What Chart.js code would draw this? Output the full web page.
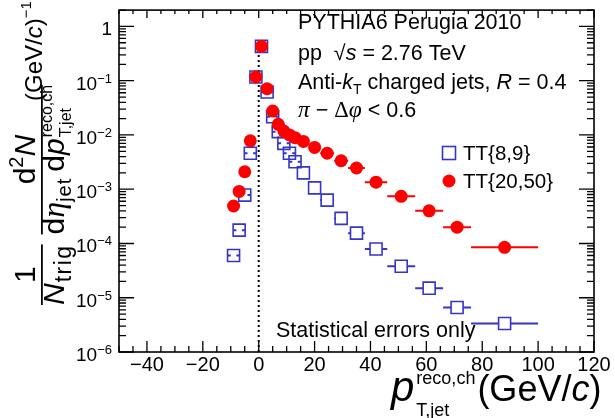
<!DOCTYPE html>
<html>
<head>
<meta charset="utf-8">
<script src="https://cdn.jsdelivr.net/npm/chart.js@4.4.1/dist/chart.umd.min.js"></script>
<style>
  html, body { margin: 0; padding: 0; background: #fff; }
  #wrap { width: 615px; height: 418px; position: relative; }
</style>
</head>
<body>
<div id="wrap"><canvas id="jets"></canvas></div>
<script>
// bin centres and half-widths in pT (GeV/c)
const binCenters = [-9, -7, -5, -3, -1, 1, 3, 5, 7, 9, 11, 13, 16, 20, 24.5, 29.5, 35, 42, 51, 61, 71, 88];
const binHalfWidths = [1, 1, 1, 1, 1, 1, 1, 1, 1, 1, 1, 1, 2, 2, 2.5, 2.5, 3, 4, 5, 5, 5, 12];

// per-trigger yields
const tt89 = [6.0e-5, 1.76e-4, 7.8e-4, 4.6e-3, 0.117, 0.43, 0.062, 0.0217, 0.0115, 0.0070, 0.0046, 0.0032,
              0.0020, 1.06e-3, 6.3e-4, 2.9e-4, 1.55e-4, 7.9e-5, 3.8e-5, 1.5e-5, 6.6e-6, 3.35e-6];
const tt2050 = [4.9e-4, 9.1e-4, 2.1e-3, 7.8e-3, 0.117, 0.43, 0.071, 0.0275, 0.0157, 0.0118, 0.0100, 0.0089,
                0.0076, 0.0059, 0.0046, 0.00335, 0.00246, 0.00135, 7.4e-4, 4.0e-4, 2.0e-4, 8.5e-5];

const xTickValues = [-40, -20, 0, 20, 40, 60, 80, 100, 120];
const yTickExponents = [0, -1, -2, -3, -4, -5, -6];

const BLUE = '#3535c8';
const RED = '#ff0000';
const SANS = '"Liberation Sans", Arial, sans-serif';
const SERIF = '"Liberation Serif", "Times New Roman", serif';
const f = (size, style) => `${style || ''} ${size}px ${SANS}`;
const fs = (size, style) => `${style || ''} ${size}px ${SERIF}`;

// draws a row of text pieces; a piece may carry a stacked sup/sub pair
function drawRuns(ctx, x, y, runs) {
  runs.forEach(r => {
    ctx.font = r.font;
    ctx.letterSpacing = (r.ls || 0) + 'px';
    if (r.stack) {
      ctx.fillText(r.stack[0], x, y + r.dy[0]);
      ctx.fillText(r.stack[1], x, y + r.dy[1]);
      x += Math.max(ctx.measureText(r.stack[0]).width, ctx.measureText(r.stack[1]).width) + (r.gap || 0);
    } else {
      ctx.fillText(r.text, x, y + (r.dy || 0));
      x += ctx.measureText(r.text).width + (r.gap || 0);
    }
    ctx.letterSpacing = '0px';
  });
  return x;
}
function runsWidth(ctx, runs) {
  let w = 0;
  runs.forEach(r => {
    ctx.font = r.font;
    ctx.letterSpacing = (r.ls || 0) + 'px';
    if (r.stack) w += Math.max(ctx.measureText(r.stack[0]).width, ctx.measureText(r.stack[1]).width);
    else w += ctx.measureText(r.text).width;
    w += r.gap || 0;
    ctx.letterSpacing = '0px';
  });
  return w;
}

const rootFrame = {
  id: 'rootFrame',
  beforeDatasetsDraw(chart) {
    const { ctx, scales: { x, y } } = chart;
    ctx.save();
    // dotted line at zero
    ctx.strokeStyle = '#000';
    ctx.lineWidth = 2;
    ctx.setLineDash([2, 3]);
    ctx.beginPath();
    ctx.moveTo(x.getPixelForValue(0), y.getPixelForValue(1e-6));
    ctx.lineTo(x.getPixelForValue(0), y.getPixelForValue(0.5));
    ctx.stroke();
    ctx.setLineDash([]);

    // horizontal bin-width bars, kept outside the open squares
    chart.data.datasets.forEach(ds => {
      const open = ds.pointStyle === 'rect';
      const gapHalf = open ? ds.pointRadius * Math.SQRT1_2 : 0;
      ctx.strokeStyle = open ? ds.borderColor : ds.backgroundColor;
      ctx.lineWidth = 2;
      ds.data.forEach((p, i) => {
        const hw = binHalfWidths[i];
        const py = y.getPixelForValue(p.y);
        const px = x.getPixelForValue(p.x);
        const x0 = x.getPixelForValue(p.x - hw), x1 = x.getPixelForValue(p.x + hw);
        ctx.beginPath();
        ctx.moveTo(x0, py); ctx.lineTo(px - gapHalf, py);
        ctx.moveTo(px + gapHalf, py); ctx.lineTo(x1, py);
        ctx.stroke();
      });
    });
    ctx.restore();
  },
  afterDraw(chart) {
    const { ctx, chartArea: a, scales: { x, y } } = chart;
    ctx.save();
    ctx.fillStyle = '#000';
    ctx.strokeStyle = '#000';

    // frame
    ctx.lineWidth = 1.6;
    ctx.strokeRect(a.left, a.top, a.right - a.left, a.bottom - a.top);

    // x ticks, bottom and top
    ctx.lineWidth = 1.3;
    ctx.beginPath();
    for (let v = -50; v <= 120; v += 5) {
      const px = x.getPixelForValue(v);
      const major = v % 20 === 0;
      ctx.moveTo(px, a.bottom); ctx.lineTo(px, a.bottom - (major ? 11 : 6));
      ctx.moveTo(px, a.top); ctx.lineTo(px, a.top + (major ? 8 : 4));
    }
    // y ticks, left and right
    for (let e = -6; e <= 0; e++) {
      for (let m = 1; m <= 9; m++) {
        const v = m * Math.pow(10, e);
        if (v > y.max) break;
        const py = y.getPixelForValue(v);
        const len = m === 1 ? 15 : 7;
        ctx.moveTo(a.left, py); ctx.lineTo(a.left + len, py);
        ctx.moveTo(a.right, py); ctx.lineTo(a.right - len, py);
      }
    }
    ctx.stroke();

    // x tick labels
    ctx.font = f(20);
    ctx.textAlign = 'center';
    ctx.textBaseline = 'alphabetic';
    xTickValues.forEach(v => {
      const label = v < 0 ? '\u2212' + Math.abs(v) : String(v);
      ctx.fillText(label, x.getPixelForValue(v), a.bottom + 19);
    });

    // y tick labels: 1, 10^-1 ... 10^-6
    ctx.textAlign = 'left';
    yTickExponents.forEach(e => {
      const py = y.getPixelForValue(Math.pow(10, e)) + 9;
      const right = a.left - 7;
      if (e === 0) {
        ctx.font = f(19);
        ctx.textAlign = 'right';
        ctx.fillText('1', right, py);
        ctx.textAlign = 'left';
        return;
      }
      const runs = [{ text: '10', font: f(19) }, { text: '\u2212' + Math.abs(e), font: f(13), dy: -7 }];
      drawRuns(ctx, right - runsWidth(ctx, runs), py, runs);
    });

    // x axis title
    drawRuns(ctx, 391, 401, [
      { text: 'p', font: f(42, 'italic'), gap: 2 },
      { stack: ['reco,ch', 'T,jet'], font: f(18), dy: [-17, 15], gap: 2 },
      { text: '(GeV/', font: f(36) },
      { text: 'c', font: f(36, 'italic') },
      { text: ')', font: f(36) }
    ]);

    // y axis title, rotated; u runs upward along the text, v is the image x
    ctx.save();
    ctx.rotate(-Math.PI / 2);
    const put = (u, v, runs) => drawRuns(ctx, u, v, runs);
    const F = 30, S = 20, DEN = 64, NUM = 35, BAR = 41;
    let u = -305;
    // 1 / N_trig
    const den1 = [{ text: 'N', font: f(F, 'italic'), gap: 1 }, { text: 'trig', font: f(S + 3), dy: 7, ls: 1.5 }];
    const w1 = runsWidth(ctx, den1);
    put(u, DEN, den1);
    ctx.font = f(F);
    ctx.fillText('1', u + (w1 - ctx.measureText('1').width) / 2, NUM);
    ctx.fillRect(u, BAR, w1, 1.8);
    u += w1 + 10;
    // d2N / (d eta_jet d p_T,jet^reco,ch)
    const den2 = [
      { text: 'd', font: f(F) },
      { text: '\u03b7', font: fs(F + 2, 'italic') },
      { text: 'jet', font: f(S), dy: 7, gap: 6, ls: 1 },
      { text: 'd', font: f(F) },
      { text: 'p', font: f(F, 'italic'), gap: 1 },
      { stack: ['reco,ch', 'T,jet'], font: f(16), dy: [-12, 7] }
    ];
    const num2 = [
      { text: 'd', font: f(F) },
      { text: '2', font: f(S), dy: -12 },
      { text: 'N', font: f(F, 'italic') }
    ];
    const w2 = runsWidth(ctx, den2);
    put(u, DEN, den2);
    put(u + (w2 - runsWidth(ctx, num2)) / 2, NUM, num2);
    ctx.fillRect(u, BAR, w2, 1.8);
    // (GeV/c)^-1
    put(-101, 42, [
      { text: '(GeV/', font: f(24) },
      { text: 'c', font: f(24, 'italic') },
      { text: ')', font: f(24) },
      { text: '\u22121', font: f(15), dy: -11 }
    ]);
    ctx.restore();

    // label block
    ctx.textAlign = 'left';
    const L = 298, T = 21.5;
    drawRuns(ctx, L, 29, [{ text: 'PYTHIA6 Perugia 2010', font: f(T) }]);
    drawRuns(ctx, L, 60, [
      { text: 'pp  ', font: f(T) },
      { text: '\u221a', font: f(T) },
      { text: 's', font: f(T, 'italic') },
      { text: ' = 2.76 TeV', font: f(T) }
    ]);
    drawRuns(ctx, L, 89, [
      { text: 'Anti-', font: f(T) },
      { text: 'k', font: f(T, 'italic') },
      { text: 'T', font: f(14), dy: 5 },
      { text: ' charged jets, ', font: f(T) },
      { text: 'R', font: f(T, 'italic') },
      { text: ' = 0.4', font: f(T) }
    ]);
    drawRuns(ctx, L, 117, [
      { text: '\u03c0', font: fs(T + 2, 'italic') },
      { text: ' \u2212 ', font: f(T) },
      { text: '\u0394', font: fs(T + 1) },
      { text: '\u03c6', font: fs(T + 2, 'italic') },
      { text: ' < 0.6', font: f(T) }
    ]);

    drawRuns(ctx, 276, 337, [{ text: 'Statistical errors only', font: f(T) }]);

    // legend
    ctx.strokeStyle = BLUE;
    ctx.lineWidth = 1.6;
    ctx.strokeRect(449 - 6.5, 153 - 6.5, 13, 13);
    ctx.fillStyle = RED;
    ctx.beginPath();
    ctx.arc(449, 181, 6.5, 0, Math.PI * 2);
    ctx.fill();
    ctx.fillStyle = '#000';
    drawRuns(ctx, 463, 160, [{ text: 'TT{8,9}', font: f(20.5) }]);
    drawRuns(ctx, 463, 188, [{ text: 'TT{20,50}', font: f(20.5) }]);
    ctx.restore();
  }
};

new Chart(document.getElementById('jets').getContext('2d'), {
  type: 'scatter',
  data: {
    datasets: [{
      label: 'TT{8,9}',
      data: binCenters.map((v, i) => ({ x: v, y: tt89[i] })),
      pointStyle: 'rect',
      pointRadius: 8.5,
      borderColor: BLUE,
      backgroundColor: 'rgba(0,0,0,0)',
      borderWidth: 1.6,
      order: 2
    }, {
      label: 'TT{20,50}',
      data: binCenters.map((v, i) => ({ x: v, y: tt2050[i] })),
      pointStyle: 'circle',
      pointRadius: 6.5,
      borderWidth: 0,
      borderColor: RED,
      backgroundColor: RED,
      order: 1
    }]
  },
  options: {
    responsive: true,
    maintainAspectRatio: false,
    animation: false,
    events: [],
    layout: { padding: { left: 119, right: 21, top: 9, bottom: 66 } },
    plugins: { legend: { display: false }, tooltip: { enabled: false } },
    scales: {
      x: { type: 'linear', min: -50, max: 120, display: false },
      y: { type: 'logarithmic', min: 1e-6, max: 2, display: false }
    }
  },
  plugins: [rootFrame]
});
</script>
</body>
</html>
